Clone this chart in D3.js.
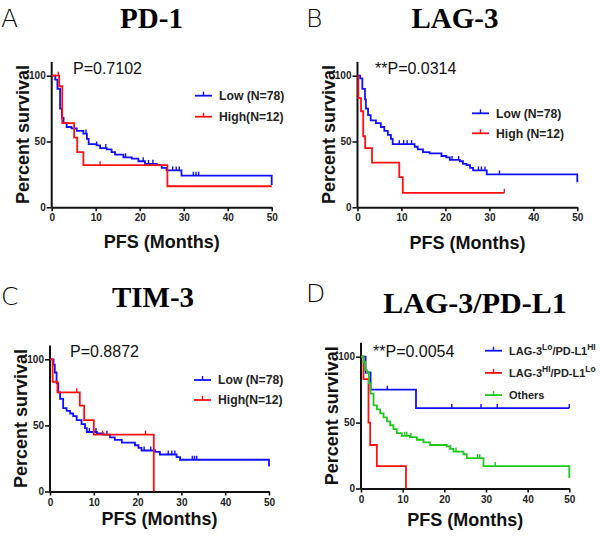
<!DOCTYPE html>
<html>
<head>
<meta charset="utf-8">
<script src="https://cdn.jsdelivr.net/npm/d3@7"></script>
<style>
  body { margin: 0; background: #fff; }
  svg { display: block; }
</style>
</head>
<body>
<div id="chart"></div>
<script>
// axis ticks
const xTicks = [0, 10, 20, 30, 40, 50];
const yTicks = [0, 50, 100];

// A: PD-1
const pd1LowT = [0.8, 1.3, 1.9, 2.3, 2.7, 3.4, 4.5, 5.7, 7.2, 8.0, 8.4, 10.2, 11.0, 12.5, 13.6, 14.4, 16.3, 18.2, 19.7, 21.2, 23.9, 25.0, 26.1, 29.5, 50];
const pd1LowS = [97, 90, 75, 68, 64, 61, 60, 58, 56, 52, 48, 47, 45, 44, 42, 40, 38, 37, 35, 33, 32, 30, 28, 24, 17];
const pd1LowCens = [7.8, 10.2, 12.3, 16.8, 20.8, 22.0, 23.0, 27.5, 28.3, 29.0, 32.2, 32.8, 33.4];
const pd1HighT = [1.7, 2.4, 5.1, 5.8, 7.2, 26.3];
const pd1HighS = [92, 64, 53, 42, 32, 16];
const pd1HighCens = [1.5, 11.0];

// B: LAG-3
const lag3LowT = [0.6, 1.1, 1.7, 1.9, 2.4, 3.0, 4.2, 5.3, 6.1, 6.9, 7.6, 8.0, 13.0, 13.7, 14.9, 16.4, 19.1, 20.2, 21.0, 23.3, 24.0, 24.8, 25.6, 26.3, 29.4, 50];
const lag3LowS = [98, 90, 82, 75, 70, 66, 64, 61, 58, 55, 52, 48, 46, 44, 42, 41, 39, 38, 36, 35, 33, 32, 30, 28, 25, 19];
const lag3LowCens = [9.5, 10.5, 11.3, 12.3, 21.5, 23.0, 27.5, 28.2, 29.0, 32.3];
const lag3HighT = [0.2, 0.8, 1.3, 1.75, 3.3, 9.5, 10.3];
const lag3HighS = [83, 73, 54, 45, 34, 23, 11];
const lag3HighCens = [33.4];

// C: TIM-3
const tim3LowT = [0.8, 1.1, 1.5, 1.9, 2.3, 3.0, 3.8, 4.6, 5.3, 6.1, 7.2, 8.0, 8.4, 10.7, 12.2, 13.7, 14.8, 16.4, 19.4, 20.2, 20.9, 24.0, 25.1, 28.9, 29.7, 50];
const tim3LowS = [96, 90, 82, 75, 70, 63, 61, 59, 57, 54, 51, 48, 45, 44, 43, 41, 39, 37, 35, 33, 31, 30, 28, 26, 24, 19];
const tim3LowCens = [9.0, 10.5, 13.0, 21.5, 23.0, 27.0, 27.8, 28.5, 32.5, 33.0, 33.5];
const tim3HighT = [0.6, 1.7, 6.8, 7.8, 10.0, 23.7];
const tim3HighS = [83, 75, 65, 54, 43, 0];
const tim3HighCens = [6.1, 12.0, 21.8];

// D: LAG-3/PD-L1
const loHiT = [1.1, 2.3, 13.2];
const loHiS = [88, 75, 61];
const loHiCens = [6.3, 21.8, 28.8, 32.7, 50];
const hiLoT = [0.6, 1.8, 2.2, 3.8, 10.8];
const hiLoS = [83, 50, 33, 17, 0];
const hiLoCens = [];
const othersT = [0.6, 1.0, 1.4, 1.9, 2.3, 3.0, 3.8, 4.6, 5.4, 6.2, 7.0, 7.8, 8.6, 9.8, 11.8, 13.4, 15.0, 16.6, 20.6, 21.4, 22.2, 24.6, 25.4, 29.4, 50];
const othersS = [96, 90, 88, 80, 72, 63, 60, 57, 54, 51, 48, 45, 42, 40, 39, 37, 35, 33, 32, 30, 28, 26, 23, 17, 8];
const othersCens = [10.5, 11.0, 12.0, 21.5, 22.8, 28.0, 28.5, 32.2];

const BLUE = '#1010ff', RED = '#ff1010', GREEN = '#1ec81e';

const panels = [
  { letter: 'A', lx: 1, ly: 27, title: 'PD-1', tx: 151.5, ty: 28, tsize: 29,
    p: 'P=0.7102', px: 73, py: 73.5,
    x0: 51.7, x1: 271.7, yTop: 75.7, yBot: 207.3, xlabY: 248,
    legX: 195, legY: 95.7, legGap: 21, legFont: 12.2, supFont: 10,
    series: [
      { t: pd1LowT, s: pd1LowS, c: pd1LowCens, end: 50, color: BLUE, label: ['Low (N=78)'] },
      { t: pd1HighT, s: pd1HighS, c: pd1HighCens, end: 50, color: RED, label: ['High(N=12)'] }
    ] },
  { letter: 'B', lx: 306, ly: 27, title: 'LAG-3', tx: 455, ty: 28, tsize: 29,
    p: '**P=0.0314', px: 375, py: 74,
    x0: 357.5, x1: 577.3, yTop: 75.7, yBot: 207.3, xlabY: 249,
    legX: 472, legY: 113.3, legGap: 20, legFont: 12.2, supFont: 10,
    series: [
      { t: lag3LowT, s: lag3LowS, c: lag3LowCens, end: 50, color: BLUE, label: ['Low (N=78)'] },
      { t: lag3HighT, s: lag3HighS, c: lag3HighCens, end: 33.4, color: RED, label: ['High (N=12)'] }
    ] },
  { letter: 'C', lx: 1, ly: 305, title: 'TIM-3', tx: 153, ty: 307, tsize: 29,
    p: 'P=0.8872', px: 70, py: 356.7,
    x0: 50, x1: 269, yTop: 359.3, yBot: 491.5, xlabY: 525,
    legX: 194, legY: 380, legGap: 20, legFont: 12.2, supFont: 10,
    series: [
      { t: tim3LowT, s: tim3LowS, c: tim3LowCens, end: 50, color: BLUE, label: ['Low (N=78)'] },
      { t: tim3HighT, s: tim3HighS, c: tim3HighCens, end: 23.7, color: RED, label: ['High(N=12)'] }
    ] },
  { letter: 'D', lx: 306, ly: 302, title: 'LAG-3/PD-L1', tx: 475, ty: 313, tsize: 30,
    p: '**P=0.0054', px: 373, py: 356.7,
    x0: 361, x1: 569.3, yTop: 356.7, yBot: 488.5, xlabY: 526,
    legX: 485, legY: 350.7, legGap: 22.2, legFont: 11, supFont: 8.5,
    series: [
      { t: loHiT, s: loHiS, c: loHiCens, end: 50, color: BLUE, label: ['LAG-3', 'Lo', '/PD-L1', 'HI'] },
      { t: hiLoT, s: hiLoS, c: hiLoCens, end: 10.8, color: RED, label: ['LAG-3', 'HI', '/PD-L1', 'Lo'] },
      { t: othersT, s: othersS, c: othersCens, end: 50, color: GREEN, label: ['Others'] }
    ] }
];

const svg = d3.select('#chart').append('svg')
  .attr('width', 600)
  .attr('height', 537);

const SANS = "'Liberation Sans', Arial, sans-serif";

function survAt(t, T, S) {
  let v = 100;
  T.forEach((tt, i) => { if (tt <= t) v = S[i]; });
  return v;
}

panels.forEach(pn => {
  const g = svg.append('g');
  const x = d3.scaleLinear().domain([0, 50]).range([pn.x0, pn.x1]);
  const y = d3.scaleLinear().domain([0, 100]).range([pn.yBot, pn.yTop]);
  const yAxisTop = y(110.5);

  // panel letter + title
  g.append('text').attr('x', pn.lx).attr('y', pn.ly)
    .style('font-family', "'DejaVu Sans', sans-serif").style('font-size', '25px')
    .style('font-weight', 300).text(pn.letter);
  g.append('text').attr('x', pn.tx).attr('y', pn.ty).attr('text-anchor', 'middle')
    .style('font-family', "'Liberation Serif', 'Times New Roman', serif")
    .style('font-size', pn.tsize + 'px').style('font-weight', 'bold').text(pn.title);

  // axes
  const xa = g.append('g').attr('transform', `translate(0, ${pn.yBot})`)
    .call(d3.axisBottom(x).tickValues(xTicks).tickSize(4).tickSizeOuter(0).tickPadding(3));
  const ya = g.append('g').attr('transform', `translate(${pn.x0}, 0)`)
    .call(d3.axisLeft(y).tickValues(yTicks).tickSize(5).tickSizeOuter(0).tickPadding(1));
  ya.select('.domain').attr('d', `M0,${pn.yBot}V${yAxisTop}`);
  [xa, ya].forEach(a => {
    a.select('.domain').attr('stroke', '#111').attr('stroke-width', 2);
    a.selectAll('.tick line').attr('stroke', '#111').attr('stroke-width', 1.6);
    a.selectAll('.tick text').attr('fill', '#222')
      .style('font-family', SANS).style('font-size', '10px').style('font-weight', 'bold');
  });

  // axis titles
  g.append('text')
    .attr('transform', `translate(${pn.x0 - 23}, ${(pn.yBot + yAxisTop) / 2}) rotate(-90)`)
    .attr('text-anchor', 'middle')
    .style('font-family', SANS).style('font-size', '18px').style('font-weight', 'bold')
    .attr('fill', '#111').text('Percent survival');
  g.append('text').attr('x', (pn.x0 + pn.x1) / 2).attr('y', pn.xlabY)
    .attr('text-anchor', 'middle')
    .style('font-family', SANS).style('font-size', '18px').style('font-weight', 'bold')
    .attr('fill', '#111').text('PFS (Months)');

  // p-value
  g.append('text').attr('x', pn.px).attr('y', pn.py)
    .style('font-family', SANS).style('font-size', '16px').attr('fill', '#111')
    .text(pn.p);

  // curves
  const line = d3.line().x(d => x(d[0])).y(d => y(d[1])).curve(d3.curveStepAfter);
  pn.series.forEach(se => {
    const pts = [[0, 100]].concat(se.t.map((t, i) => [t, se.s[i]]));
    const last = pts[pts.length - 1];
    if (se.end > last[0]) pts.push([se.end, last[1]]);
    g.append('path').datum(pts).attr('d', line)
      .attr('fill', 'none').attr('stroke', se.color).attr('stroke-width', 1.8);
    g.selectAll(null).data(se.c).enter().append('line')
      .attr('x1', d => x(d)).attr('x2', d => x(d))
      .attr('y1', d => y(survAt(d, se.t, se.s)) - 4)
      .attr('y2', d => y(survAt(d, se.t, se.s)))
      .attr('stroke', se.color).attr('stroke-width', 1.4);
  });

  // legend
  pn.series.forEach((se, i) => {
    const ly = pn.legY + i * pn.legGap;
    g.append('line').attr('x1', pn.legX).attr('x2', pn.legX + 17)
      .attr('y1', ly).attr('y2', ly).attr('stroke', se.color).attr('stroke-width', 1.8);
    g.append('line').attr('x1', pn.legX + 8.5).attr('x2', pn.legX + 8.5)
      .attr('y1', ly - 4).attr('y2', ly).attr('stroke', se.color).attr('stroke-width', 1.4);
    const tx = g.append('text').attr('x', pn.legX + 24).attr('y', ly).attr('dy', '0.36em')
      .style('font-family', SANS).style('font-size', pn.legFont + 'px').style('font-weight', 'bold')
      .attr('fill', '#222');
    se.label.forEach((part, k) => {
      if (k % 2 === 0) {
        tx.append('tspan').attr('dy', k === 0 ? null : '5px').text(part);
      } else {
        tx.append('tspan').attr('dy', '-5px').style('font-size', pn.supFont + 'px').text(part);
      }
    });
  });
});
</script>
</body>
</html>
